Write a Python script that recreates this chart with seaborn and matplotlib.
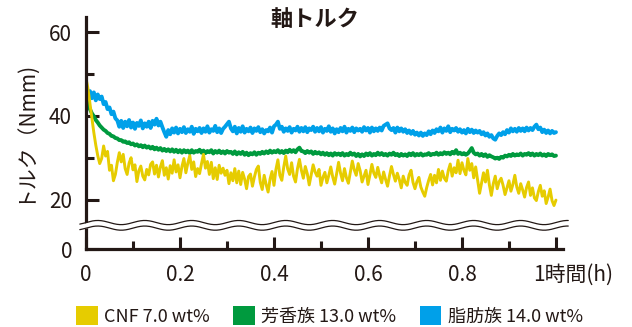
import numpy as np
import pandas as pd
import matplotlib
matplotlib.use("Agg")
import matplotlib.pyplot as plt
import matplotlib.transforms as mtransforms
from matplotlib.patches import Patch
from matplotlib.ticker import FixedLocator
import seaborn as sns

sns.set_theme(style="white")
plt.rcParams["font.family"] = ["Noto Sans CJK JP", "DejaVu Sans"]

INK = "#231815"
C_CNF = "#e6cc00"
C_ARO = "#009a3e"
C_ALI = "#00a0e9"

# shaft torque logged over one hour (Nmm), 241 samples per run
time_h = np.linspace(0.0, 1.0, 241)

torque_ali = [
    46.0, 44.8, 45.9, 44.2, 45.6, 43.7, 45.1, 44.0, 44.6, 42.8,
    43.3, 41.6, 42.0, 40.4, 41.0, 39.4, 38.9, 37.4, 38.8, 37.1,
    38.6, 37.5, 39.0, 37.2, 38.4, 36.9, 38.3, 37.6, 38.9, 37.0,
    38.2, 37.4, 38.6, 37.1, 38.8, 37.9, 39.3, 37.7, 38.6, 37.3,
    36.1, 35.0, 36.6, 35.6, 37.0, 36.0, 37.2, 35.8, 36.9, 36.1,
    37.3, 35.9, 36.8, 36.2, 37.4, 35.7, 36.9, 36.3, 37.1, 35.9,
    37.0, 36.2, 37.5, 36.0, 36.8, 36.4, 37.6, 36.1, 37.0, 35.9,
    36.9, 37.4, 38.0, 38.6, 37.0, 36.3, 37.4, 35.8, 37.1, 36.2,
    37.5, 36.0, 36.9, 36.3, 37.2, 35.9, 37.0, 36.4, 37.3, 36.1,
    36.8, 35.8, 36.6, 36.3, 37.2, 36.0, 37.5, 37.9, 38.6, 36.9,
    37.4, 36.2, 37.0, 36.4, 37.3, 36.0, 36.9, 36.5, 37.4, 36.2,
    37.1, 36.3, 37.3, 36.1, 37.0, 36.6, 37.4, 36.2, 37.1, 36.3,
    37.3, 36.0, 36.9, 36.4, 37.5, 36.2, 37.0, 35.8, 36.8, 36.1,
    37.1, 36.3, 37.4, 36.0, 36.9, 36.4, 37.2, 36.1, 37.0, 36.5,
    36.9, 36.2, 37.3, 36.5, 37.1, 36.0, 37.2, 36.3, 37.0, 36.4,
    37.2, 36.5, 37.6, 37.9, 38.2, 37.0, 36.6, 37.1, 36.0, 37.2,
    36.3, 37.0, 36.2, 36.8, 35.9, 36.5, 35.7, 36.4, 35.5, 36.0,
    35.3, 36.0, 35.2, 35.8, 35.4, 36.3, 35.6, 36.5, 35.9, 36.8,
    36.3, 37.2, 36.0, 37.0, 36.4, 37.5, 36.1, 36.9, 36.5, 37.1,
    36.2, 36.8, 36.0, 36.6, 35.8, 36.9, 36.1, 36.7, 35.9, 36.5,
    36.0, 36.4, 35.6, 36.1, 35.3, 35.8, 35.0, 35.4, 34.6, 34.3,
    35.2, 35.8, 35.4, 36.1, 35.6, 36.6, 36.0, 37.0, 36.3, 36.9,
    36.2, 37.1, 36.4, 37.0, 36.3, 37.2, 36.5, 37.1, 36.6, 37.4,
    37.9, 36.8, 37.2, 36.1, 36.7, 35.9, 36.5, 35.8, 36.4, 35.9,
    36.1,
]

torque_aro = [
    44.0, 42.8, 41.6, 40.6, 39.9, 39.0, 38.4, 37.7, 37.2, 36.7,
    36.4, 35.9, 35.7, 35.2, 35.1, 34.7, 34.6, 34.2, 34.2, 33.8,
    33.9, 33.5, 33.7, 33.2, 33.4, 32.9, 33.2, 32.7, 33.0, 32.5,
    32.9, 32.4, 32.7, 32.2, 32.6, 32.0, 32.4, 31.9, 32.3, 31.7,
    32.1, 31.6, 32.0, 31.5, 32.0, 31.4, 31.9, 31.3, 31.8, 31.2,
    31.8, 31.3, 31.7, 31.1, 31.8, 31.2, 31.6, 31.4, 31.9, 31.2,
    31.7, 31.1, 31.6, 31.3, 31.8, 31.0, 31.6, 31.2, 31.7, 31.1,
    31.5, 31.0, 31.6, 31.2, 31.4, 30.9, 31.5, 30.8, 31.3, 30.9,
    31.4, 30.7, 31.2, 30.6, 31.1, 30.8, 31.3, 30.7, 31.2, 30.9,
    31.4, 31.0, 31.5, 31.1, 31.7, 31.2, 31.6, 31.3, 31.8, 31.2,
    31.6, 31.1, 31.7, 31.3, 31.9, 31.4, 31.8, 31.3, 32.0, 32.4,
    31.6, 31.5, 31.1, 31.6, 31.2, 31.5, 30.9, 31.4, 31.0, 31.3,
    30.8, 31.2, 30.7, 31.1, 30.6, 31.0, 30.5, 31.1, 30.7, 31.0,
    30.6, 31.1, 30.5, 30.9, 30.6, 31.2, 30.7, 31.0, 30.4, 30.9,
    30.3, 30.8, 30.4, 31.0, 30.6, 31.1, 30.5, 30.9, 30.6, 31.2,
    30.7, 31.1, 30.6, 30.9, 30.5, 31.0, 30.7, 31.2, 30.6, 30.9,
    30.4, 30.9, 30.5, 30.8, 30.4, 31.0, 30.6, 31.1, 30.5, 30.9,
    30.6, 31.0, 30.5, 30.8, 30.7, 31.1, 30.6, 30.9, 30.8, 31.2,
    30.7, 31.1, 30.8, 31.3, 30.9, 31.2, 30.8, 31.4, 31.0, 31.8,
    30.9, 31.2, 30.8, 31.1, 30.7, 31.0, 31.6, 32.3, 31.2, 30.8,
    31.0, 30.5, 30.9, 30.4, 30.8, 30.2, 30.6, 30.3, 30.1, 29.8,
    30.0, 29.7, 30.2, 30.0, 30.5, 30.3, 30.7, 30.4, 30.9, 30.5,
    30.8, 30.6, 31.0, 30.5, 30.9, 30.7, 31.1, 30.6, 31.0, 30.5,
    30.9, 30.6, 31.0, 30.5, 30.8, 30.4, 30.9, 30.6, 30.8, 30.4,
    30.5,
]

torque_cnf = [
    49.0, 46.5, 43.0, 39.5, 36.0, 33.0, 30.5, 28.6, 29.8, 32.8,
    30.4, 31.5, 27.0, 28.2, 24.5, 26.0, 28.9, 31.2, 29.0, 30.8,
    27.4, 26.0, 28.7, 30.0, 27.1, 28.3, 24.3, 26.9, 28.0, 25.6,
    24.7, 27.2, 25.9, 28.4, 29.0, 26.1, 28.2, 25.4, 27.8, 29.3,
    25.8, 27.6, 24.9, 28.1, 26.3, 29.5, 26.6, 28.3, 25.2, 27.9,
    29.8, 26.4, 28.7, 30.5, 27.2, 29.0, 25.5, 27.4, 26.2, 28.6,
    30.8, 27.5, 29.1, 26.0, 28.9, 25.0, 27.6, 24.8, 28.2, 26.3,
    27.5, 25.8, 27.0, 23.8, 26.4, 24.5, 27.4, 24.0, 26.8, 23.6,
    26.5, 24.9, 22.6, 25.5, 26.1, 23.2, 25.4, 27.2, 28.0, 24.1,
    22.4, 25.8, 23.6, 21.8, 24.9, 26.7, 23.4, 27.2, 29.5, 25.8,
    24.6, 27.8, 30.4, 27.3, 26.0, 28.8, 25.6, 24.2, 27.4, 29.6,
    27.0, 25.1, 27.9, 26.2, 23.5, 25.9, 28.3, 26.6, 25.6, 27.2,
    23.4, 25.3, 26.5, 24.0, 25.8, 27.8, 25.4, 23.7, 26.2, 28.9,
    26.3, 24.5, 27.4, 25.2, 23.9, 26.5, 29.2, 27.1, 25.8, 28.6,
    26.9, 24.2, 25.6, 27.0, 23.6, 25.9, 28.4, 26.3, 25.3, 27.7,
    25.6, 24.0, 26.6, 24.8, 23.2, 25.7, 27.9, 26.0, 24.4, 26.3,
    24.8, 22.8, 25.6, 24.1, 23.4, 25.9, 27.0, 24.1, 22.6, 24.3,
    25.3, 23.0, 21.8, 20.8, 22.9, 24.6, 26.0, 23.5, 25.8, 24.0,
    27.2, 24.6, 26.8, 25.1, 24.4, 26.9, 28.5, 25.6, 27.6, 26.4,
    29.4, 26.2, 28.8, 27.0, 25.9, 29.8, 27.0, 28.6, 25.2, 27.8,
    24.6, 21.5, 23.9, 26.4, 24.2, 27.0, 23.5, 21.0, 23.8, 25.6,
    22.6, 24.3, 25.1, 23.4, 21.2, 22.8, 24.5, 22.0, 23.6, 25.8,
    23.0, 21.5, 23.8, 22.3, 20.6, 22.9, 24.2, 21.0, 22.8, 20.4,
    19.6, 21.9, 23.4, 20.8, 22.1, 18.4, 20.6, 22.5, 19.6, 17.6,
    19.8,
]

series_labels = ["CNF 7.0 wt%", "芳香族 13.0 wt%", "脂肪族 14.0 wt%"]
y_ticks = [0, 20, 40, 60]
y_minor = [30, 50]
x_ticks = [0.0, 0.2, 0.4, 0.6, 0.8, 1.0]
x_tick_labels = ["0", "0.2", "0.4", "0.6", "0.8", "1時間(h)"]
x_minor = [0.1, 0.3, 0.5, 0.7, 0.9]

df = pd.DataFrame({
    "time": time_h,
    "cnf": torque_cnf,
    "aro": torque_aro,
    "ali": torque_ali,
})

fig = plt.figure(figsize=(6.32, 3.27), dpi=100)
ax = fig.add_axes([86 / 632, 78 / 327, 477 / 632, 232 / 327])

sns.lineplot(data=df, x="time", y="ali", color=C_ALI, lw=2.8, ax=ax, legend=False)
sns.lineplot(data=df, x="time", y="aro", color=C_ARO, lw=2.8, ax=ax, legend=False)
sns.lineplot(data=df, x="time", y="cnf", color=C_CNF, lw=2.1, ax=ax, legend=False)

# compressed section below 20 Nmm (axis break)
K = 0.59


def fwd(y):
    y = np.asarray(y, dtype=float)
    return np.where(y >= 20, y, 20 - (20 - y) * K)


def inv(y):
    y = np.asarray(y, dtype=float)
    return np.where(y >= 20, y, 20 - (20 - y) / K)


ax.set_yscale("function", functions=(fwd, inv))
ax.set_ylim(0, 63.6)
ax.set_xlim(0, 1.015)

ax.yaxis.set_major_locator(FixedLocator(y_ticks))
ax.yaxis.set_minor_locator(FixedLocator(y_minor))
ax.set_yticklabels([str(v) for v in y_ticks])
ax.xaxis.set_major_locator(FixedLocator(x_ticks))
ax.xaxis.set_minor_locator(FixedLocator(x_minor))
ax.set_xticklabels(x_tick_labels)

ax.set_xlabel("")
ax.set_ylabel("")

for side in ("top", "right"):
    ax.spines[side].set_visible(False)
for side in ("left", "bottom"):
    ax.spines[side].set_linewidth(2.3)
    ax.spines[side].set_color(INK)

ax.tick_params(axis="both", which="both", bottom=True, left=True,
               top=False, right=False)
ax.tick_params(axis="both", which="major", direction="in", length=9, width=2.2,
               color=INK, labelcolor=INK, labelsize=15)
ax.tick_params(axis="both", which="minor", direction="in", length=5.5, width=2.2,
               color=INK)
ax.tick_params(axis="y", which="major", pad=10)
ax.tick_params(axis="x", which="major", pad=11)

# shift the unit label so the "1" sits to the right of its tick
last = ax.get_xticklabels()[-1]
last.set_transform(last.get_transform() +
                   mtransforms.ScaledTranslation(17 / 100, 0, fig.dpi_scale_trans))

# wavy break marks across the plot
xs = np.linspace(-0.013, 1.011, 500)
wave = 0.009 * np.sin(2 * np.pi * xs / 0.0985)
y_hi = 0.114 + wave
y_lo = 0.090 + wave
ax.fill_between(xs, y_lo, y_hi, color="white", transform=ax.transAxes,
                clip_on=False, zorder=5, lw=0)
ax.plot(xs, y_hi, color=INK, lw=0.9, transform=ax.transAxes, clip_on=False, zorder=6)
ax.plot(xs, y_lo, color=INK, lw=0.9, transform=ax.transAxes, clip_on=False, zorder=6)

fig.text(315 / 632, 1 - 19 / 327, "軸トルク", ha="center", va="center",
         fontsize=16, fontweight="bold", color=INK)
fig.text(24 / 632, 1 - 131 / 327, "トルク（Nmm)", rotation=90, ha="center",
         va="center", fontsize=15, color=INK)

handles = [Patch(facecolor=c, edgecolor="none") for c in (C_CNF, C_ARO, C_ALI)]
fig.legend(handles=handles, labels=series_labels, loc="center left",
           bbox_to_anchor=(76 / 632, 1 - 316 / 327), ncol=3, frameon=False,
           fontsize=13, handlelength=1.2, handleheight=1.2, handletextpad=0.35,
           columnspacing=1.3, borderpad=0, borderaxespad=0, labelcolor=INK)

fig.savefig("out.png", dpi=100)
